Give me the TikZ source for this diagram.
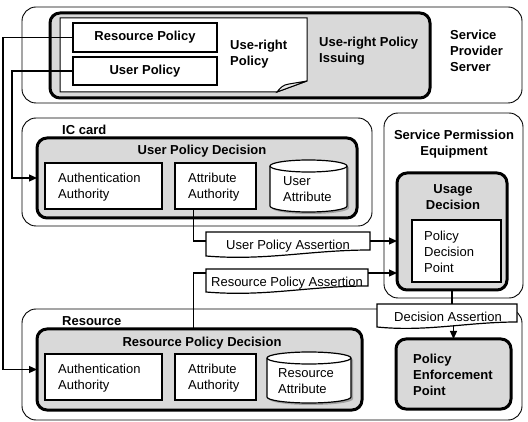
\documentclass[tikz,border=0pt]{standalone}
\usepackage{fontspec}
\setmainfont{Liberation Sans}
\usetikzlibrary{arrows.meta,shadows}
\begin{document}
\begin{tikzpicture}[x=1pt,y=-1pt,
  every node/.style={font=\fontsize{13}{16}\selectfont},
  container/.style={draw, line width=0.9pt, rounded corners=14pt, anchor=north west, inner sep=0pt, outer sep=0pt},
  thickbox/.style={draw, line width=3pt, rounded corners=10pt, fill=black!15, anchor=north west, inner sep=0pt, outer sep=0pt},
  whitebox/.style={draw, line width=1.8pt, fill=white, anchor=north west, inner sep=0pt, outer sep=0pt},
  thinbox/.style={draw, line width=1.2pt, fill=white, anchor=north west, inner sep=0pt, outer sep=0pt},
  area/.style={anchor=north west, inner sep=0pt, outer sep=0pt},
  title/.style={font=\fontsize{13}{16}\selectfont\bfseries, inner sep=0pt, align=left, anchor=west},
  ctitle/.style={font=\fontsize{13}{16}\selectfont\bfseries, inner sep=0pt, align=center, anchor=center},
  txt/.style={inner sep=0pt, align=left, anchor=west},
  conn/.style={line width=1.2pt},
  arr/.style={conn, -{Triangle[length=8pt,width=7pt]}},
  bannerline/.style={draw, line width=1.2pt, fill=white},
  cyl/.style={draw, line width=1.2pt, fill=white, drop shadow={shadow xshift=2pt, shadow yshift=-2pt, fill=black!45, opacity=0.7}},
]
\useasboundingbox (0,0) rectangle (528,422);

% containers
\node[container, minimum width=500pt, minimum height=96pt] (sps) at (22,7) {};
\node[container, minimum width=350pt, minimum height=108pt] (ic) at (22,118) {};
\node[container, minimum width=139pt, minimum height=185pt] (spe) at (384,113) {};
\node[container, minimum width=500pt, minimum height=111pt] (res) at (22,309) {};

% service provider server
\node[thickbox, minimum width=380pt, minimum height=85pt] (uri) at (50,13) {};
\draw[line width=1pt, fill=white] (60,18) -- (307,18) -- (307,81) -- (277,92) -- (60,92) -- cycle;
\draw[line width=1pt, fill=black!8] (277,92) .. controls (281,87) and (283,85) .. (289,84) -- (307,81) -- cycle;
\node[thinbox, minimum width=144pt, minimum height=29pt] (rp) at (73,23) {};
\node[ctitle] (rpt) at (rp.center) {Resource Policy};
\node[thinbox, minimum width=144pt, minimum height=28pt] (up) at (73,57) {};
\node[ctitle] (upt) at (up.center) {User Policy};
\node[title] (urpt) at (230,54) {Use-right\\Policy};
\node[title] (urit) at (319,51) {Use-right Policy\\Issuing};
\node[title] (spst) at (450,51) {Service\\Provider\\Server};

% IC card
\node[title] (ict) at (62,130) {IC card};
\node[thickbox, minimum width=320pt, minimum height=80pt] (upd) at (37,138) {};
\node[ctitle] (updt) at (202,151) {User Policy Decision};
\node[whitebox, minimum width=117pt, minimum height=46pt] (uaa) at (45,163) {};
\node[txt] (uaat) at (58,187) {Authentication\\Authority};
\node[whitebox, minimum width=81pt, minimum height=46pt] (uatt) at (175,163) {};
\node[txt] (uattt) at (188,187) {Attribute\\Authority};
\node[area, minimum width=77pt, minimum height=52pt] (uattr) at (270,160) {};
\path[cyl] ([yshift=-6pt]uattr.north west) -- ([yshift=6pt]uattr.south west) arc[start angle=180,end angle=360,x radius=38.5pt,y radius=6pt] -- ([yshift=-6pt]uattr.north east) arc[start angle=0,end angle=180,x radius=38.5pt,y radius=6pt] -- cycle;
\draw[line width=1.2pt] ([yshift=-6pt]uattr.north west) arc[start angle=180,end angle=360,x radius=38.5pt,y radius=6pt];
\node[txt] (uattrt) at (283,189) {User\\Attribute};

% service permission equipment
\node[ctitle] (spet) at (454,144) {Service Permission\\Equipment};
\node[thickbox, minimum width=110pt, minimum height=117pt] (ud) at (397,173) {};
\node[ctitle] (udt) at (453,197) {Usage\\Decision};
\node[whitebox, minimum width=89pt, minimum height=62pt] (pdp) at (412,220) {};
\node[txt] (pdpt) at (424,252) {Policy\\Decision\\Point};

% resource
\node[title] (rest) at (62,321) {Resource};
\node[thickbox, minimum width=325pt, minimum height=81pt] (rpd) at (37,329) {};
\node[ctitle] (rpdt) at (202,343) {Resource Policy Decision};
\node[whitebox, minimum width=117pt, minimum height=46pt] (raa) at (45,354) {};
\node[txt] (raat) at (58,378) {Authentication\\Authority};
\node[whitebox, minimum width=81pt, minimum height=46pt] (ratt) at (175,354) {};
\node[txt] (rattt) at (188,378) {Attribute\\Authority};
\node[area, minimum width=84pt, minimum height=51pt] (rattr) at (267,352) {};
\path[cyl] ([yshift=-6pt]rattr.north west) -- ([yshift=6pt]rattr.south west) arc[start angle=180,end angle=360,x radius=42pt,y radius=6pt] -- ([yshift=-6pt]rattr.north east) arc[start angle=0,end angle=180,x radius=42pt,y radius=6pt] -- cycle;
\draw[line width=1.2pt] ([yshift=-6pt]rattr.north west) arc[start angle=180,end angle=360,x radius=42pt,y radius=6pt];
\node[txt] (rattrt) at (278,381) {Resource\\Attribute};
\node[thickbox, minimum width=115pt, minimum height=70pt] (pep) at (396,339) {};
\node[title] (pept) at (413,375) {Policy\\Enforcement\\Point};

% policy distribution lines
\draw[arr] (rp.west) -- ++(-70,0) |- (rpd.west);
\draw[arr] (up.west) -- ++(-61,0) |- (upd.west);

% user policy assertion
\node[area, minimum width=164pt, minimum height=24pt] (upab) at (206,232) {};
\path[bannerline] (upab.north west) -- (upab.north east) -- ([yshift=6pt]upab.south east) .. controls +(-60pt,0pt) and +(60pt,-5pt) .. (upab.south west) -- cycle;
\node[txt, anchor=center] (upat) at (288,246) {User Policy Assertion};
\coordinate (upaL) at ([yshift=-9pt]upab.north west);
\coordinate (upaR) at ([yshift=-9pt]upab.north east);
\coordinate (ux) at ([xshift=-22pt]uatt.south);
\draw[conn] (ux) |- (upaL);
\draw[arr] (upaR) -- (upaR -| ud.west);

% resource policy assertion
\node[area, minimum width=162pt, minimum height=23pt] (rpab) at (206,269) {};
\path[bannerline] (rpab.north west) -- (rpab.north east) -- ([yshift=6pt]rpab.south east) .. controls +(-60pt,0pt) and +(60pt,-5pt) .. (rpab.south west) -- cycle;
\node[txt, anchor=center] (rpat) at (287,283) {Resource Policy Assertion};
\coordinate (rpaL) at ([yshift=-4pt]rpab.north west);
\coordinate (rpaR) at ([yshift=-4pt]rpab.north east);
\coordinate (rx) at ([xshift=-22pt]ratt.north);
\draw[conn] (rx |- rpd.north) |- (rpaL);
\draw[arr] (rpaR) -- (rpaR -| ud.west);

% decision assertion
\node[area, minimum width=140pt, minimum height=23pt] (dab) at (377,304) {};
\path[bannerline] (dab.north west) -- (dab.north east) -- ([yshift=5pt]dab.south east) .. controls +(-50pt,0pt) and +(50pt,-5pt) .. (dab.south west) -- cycle;
\node[txt, anchor=center] (dat) at (448,317) {Decision Assertion};
\coordinate (dab2) at ([yshift=2pt]dab.south);
\draw[conn] (ud.south) -- (ud.south |- dab.north);
\draw[arr] (pep.north |- dab2) -- (pep.north);
\end{tikzpicture}
\end{document}
